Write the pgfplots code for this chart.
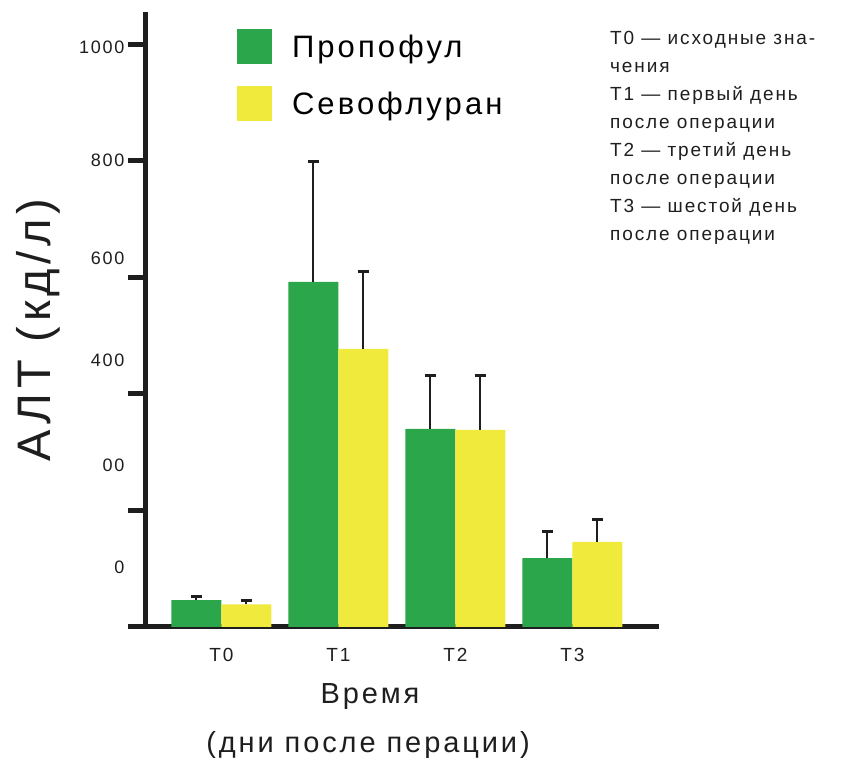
\documentclass[border=0pt]{standalone}
\usepackage{fontspec}
\setmainfont{Liberation Sans}[LetterSpace=10]
\usepackage{pgfplots}
\pgfplotsset{compat=1.18}
\definecolor{cgreen}{RGB}{43,166,74}
\definecolor{cyellow}{RGB}{240,234,60}
\definecolor{cblack}{RGB}{30,30,30}
\begin{document}
\begin{tikzpicture}
\useasboundingbox (-146pt,-135pt) rectangle (695pt,627pt);
\begin{axis}[
  at={(0pt,0pt)}, anchor=south west,
  scale only axis, width=513pt, height=615pt,
  xmin=-0.645, xmax=3.74, ymin=0, ymax=1055,
  axis x line*=bottom, axis y line*=left,
  axis line style={line width=5pt, cblack, -},
  ybar, bar width=50pt,
  ytick={0,200,400,600,800,1000}, yticklabels={},
  major tick length=18pt, tick align=outside,
  y tick style={line width=5pt, cblack},
  extra y ticks={103,278,458,633,801,995},
  extra y tick labels={0,00,400,600,800,1000},
  extra y tick style={y tick style={draw=none}},
  yticklabel style={font=\fontsize{18}{20}\selectfont, color=cblack},
  xtick={0,1,2,3}, xticklabels={T0,T1,T2,T3},
  x tick style={draw=none},
  xticklabel style={font=\fontsize{19}{21}\selectfont, color=cblack},
  /pgf/number format/assume math mode=true,
  legend style={at={(rel axis cs:0.177,0.972)}, anchor=north west, draw=none, fill=none,
    font=\fontsize{31}{33}\selectfont, row sep=22pt, inner sep=0pt,
    /tikz/every even column/.append style={column sep=20pt}},
  legend cell align=left,
  legend image code/.code={\fill[#1,draw=none] (0pt,-17.5pt) rectangle (35pt,17.5pt);},
  error bars/y dir=plus, error bars/y explicit,
  error bars/error bar style={line width=2pt, cblack},
  error bars/error mark options={rotate=90, mark size=5.5pt, line width=3pt, cblack},
]
\addplot+[bar shift=-25pt, fill=cgreen, draw=none] coordinates {
  (0,46) +- (0,7)
  (1,592) +- (0,207)
  (2,340) +- (0,91)
  (3,118) +- (0,45)
};
\addplot+[bar shift=25pt, fill=cyellow, draw=none] coordinates {
  (0,39) +- (0,6)
  (1,477) +- (0,132)
  (2,338) +- (0,93)
  (3,146) +- (0,38)
};
\addlegendentry{\hspace{18pt}Пропофул}
\addlegendentry{\hspace{18pt}Севофлуран}
\end{axis}
\node[rotate=90, font=\fontsize{47}{50}\selectfont, color=cblack] at (-108pt,297pt) {АЛТ (кд/л)};
\node[font=\fontsize{29}{31}\selectfont, color=cblack] at (224pt,-70pt) {Время};
\node[font=\fontsize{29}{31}\selectfont, color=cblack] at (222pt,-118pt) {(дни после перации)};
\node[anchor=north west, align=left, font=\fontsize{19}{28}\selectfont, color=cblack, inner sep=0pt] at (464pt,596pt) {Т0 — исходные зна-\\чения\\Т1 — первый день\\после операции\\Т2 — третий день\\после операции\\Т3 — шестой день\\после операции};
\end{tikzpicture}
\end{document}
